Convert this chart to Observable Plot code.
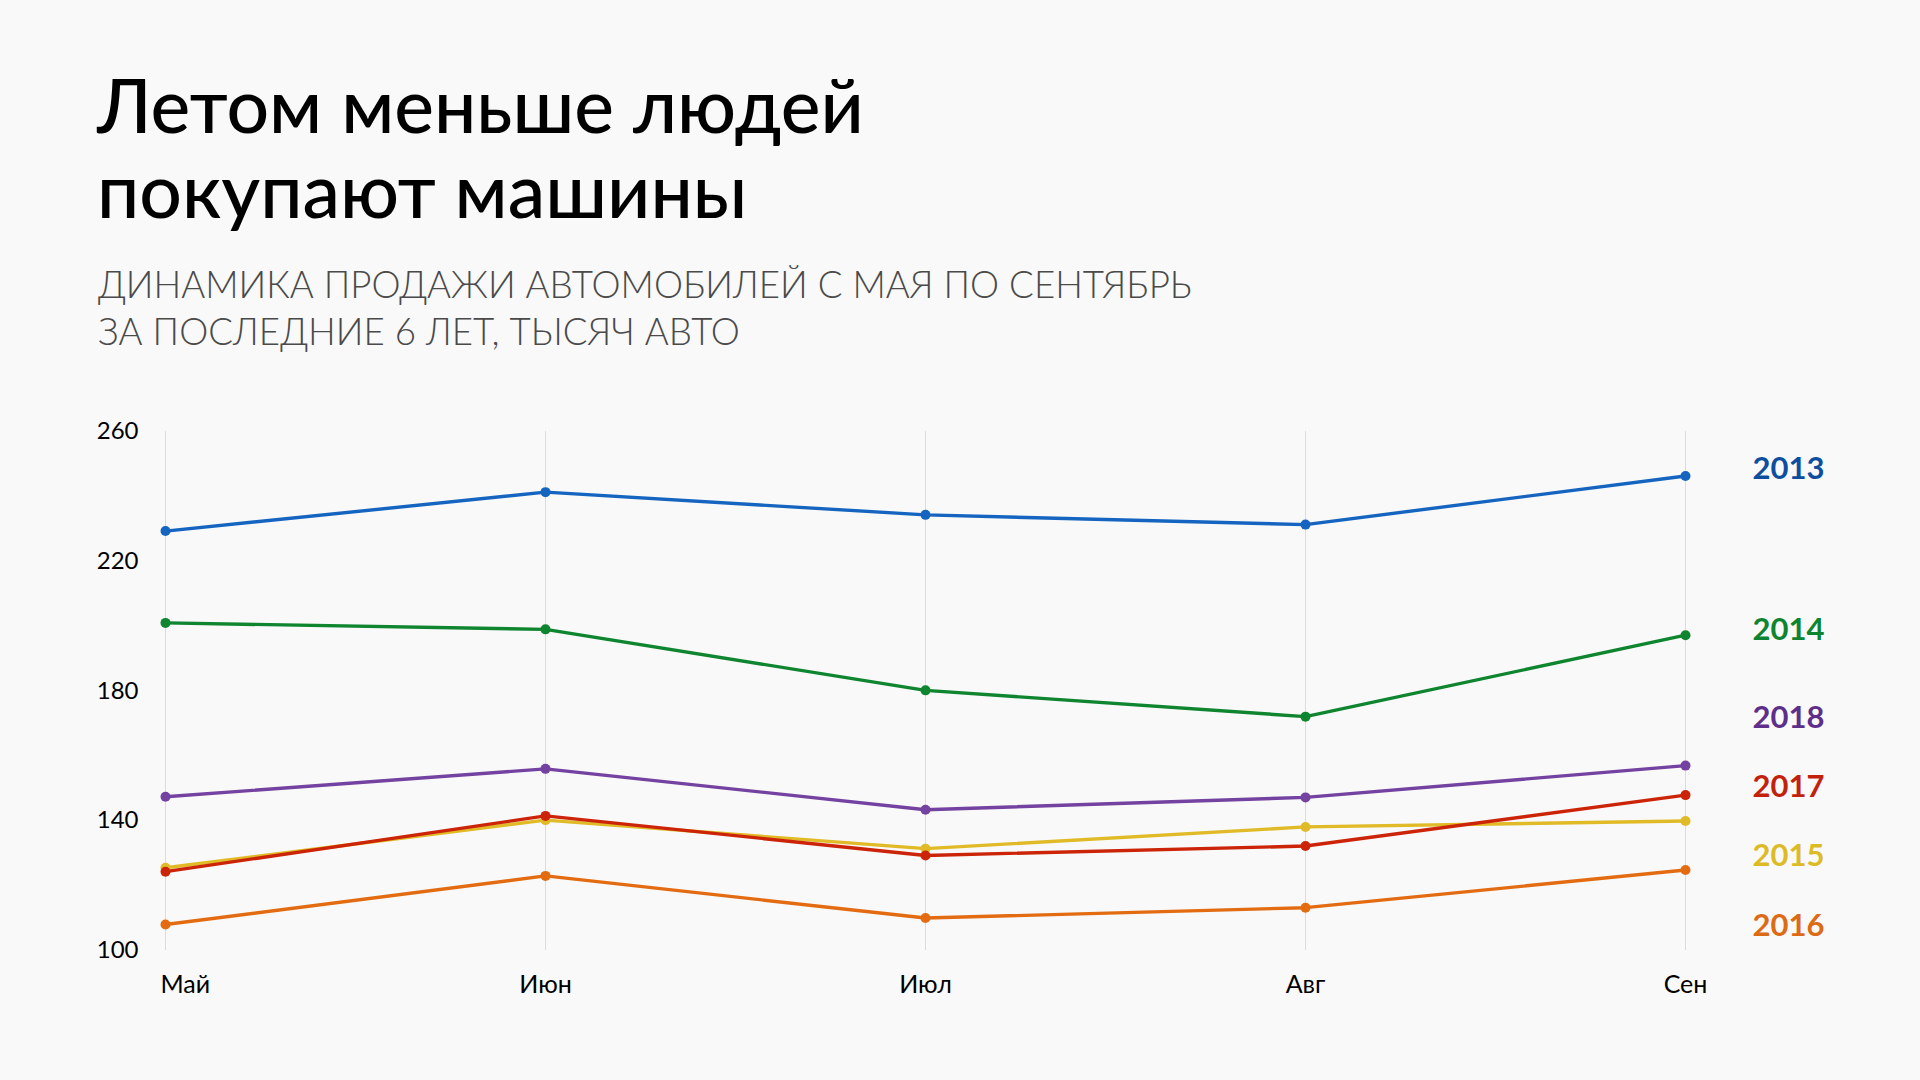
<!DOCTYPE html>
<html><head><meta charset="utf-8">
<script src="https://cdn.jsdelivr.net/npm/d3@7"></script>
<script src="https://cdn.jsdelivr.net/npm/@observablehq/plot@0.6"></script>
<style>
html,body{margin:0;padding:0;background:#f9f9f9;width:1920px;height:1080px;overflow:hidden;font-family:Lato,"Noto Sans",sans-serif;}
#title{position:absolute;left:97px;top:62px;font-size:75px;font-weight:500;line-height:85px;color:#000;white-space:nowrap;}
#subtitle{position:absolute;left:98px;top:261px;font-size:36.7px;font-weight:300;line-height:47px;color:#4a4a4a;white-space:nowrap;}
#chart{position:absolute;left:0;top:380px;}
</style></head>
<body>
<div id="title">Летом меньше людей<br>покупают машины</div>
<div id="subtitle">ДИНАМИКА ПРОДАЖИ АВТОМОБИЛЕЙ С МАЯ ПО СЕНТЯБРЬ<br>ЗА ПОСЛЕДНИЕ 6 ЛЕТ, ТЫСЯЧ АВТО</div>
<div id="chart"></div>
<script>
const months = ["Май", "Июн", "Июл", "Авг", "Сен"];
const years = ["2013", "2014", "2015", "2016", "2017", "2018"];
const yTicks = [100, 140, 180, 220, 260];
const sales2013 = [229.3, 241.3, 234.3, 231.3, 246.3];
const sales2014 = [201.0, 199.0, 180.2, 172.1, 197.2];
const sales2015 = [125.5, 140.2, 131.4, 138.1, 139.9];
const sales2016 = [108.0, 123.0, 110.0, 113.2, 124.8];
const sales2017 = [124.3, 141.5, 129.3, 132.2, 147.9];
const sales2018 = [147.4, 156.0, 143.4, 147.2, 157.0];
const lineColors = ["#1565c0", "#0f852f", "#e0bb27", "#e36c12", "#cc2408", "#7442a0"];
const labelColors = ["#0d4f9e", "#0d8530", "#dcbb27", "#dd6a14", "#c2220c", "#5e2f8a"];
const labelValues = [248.3, 198.9, 129.2, 107.5, 150.5, 171.6];

const seriesList = [sales2013, sales2014, sales2015, sales2016, sales2017, sales2018];
const rows = years.flatMap((yr, k) => months.map((m, i) => ({year: yr, month: m, value: seriesList[k][i]})));

const chart = Plot.plot({
  width: 1920,
  height: 660,
  marginTop: 51,
  marginBottom: 90,
  marginLeft: 164,
  marginRight: 235,
  style: {background: "transparent", fontFamily: "Lato, 'Noto Sans', sans-serif", fontSize: "24px", color: "#000"},
  x: {type: "point", domain: months, padding: 0, label: null},
  y: {domain: [100, 260], label: null},
  color: {domain: years, range: lineColors},
  marks: [
    Plot.ruleX(months, {x: d => d, y1: 100, y2: 260, stroke: "#dcdcdc", strokeWidth: 1}),
    Plot.axisY({ticks: yTicks, tickSize: 0, tickPadding: 26, label: null, fill: "#000"}),
    Plot.axisX({ticks: months.slice(0, 1), tickSize: 0, tickPadding: 25, label: null, fill: "#000", fontSize: 25, textAnchor: "start", dx: -5}),
    Plot.axisX({ticks: months.slice(1), tickSize: 0, tickPadding: 25, label: null, fill: "#000", fontSize: 25}),
    Plot.line(rows, {x: "month", y: "value", z: "year", stroke: "year", strokeWidth: 3.4}),
    Plot.dot(rows, {x: "month", y: "value", fill: "year", r: 5}),
    ...years.map((yr, i) => Plot.text([yr], {
      x: () => months[months.length - 1],
      y: () => labelValues[i],
      text: d => d,
      fill: labelColors[i],
      dx: 67,
      textAnchor: "start",
      fontWeight: 700,
      fontSize: 31
    }))
  ]
});
document.getElementById("chart").appendChild(chart);
</script>
</body></html>
